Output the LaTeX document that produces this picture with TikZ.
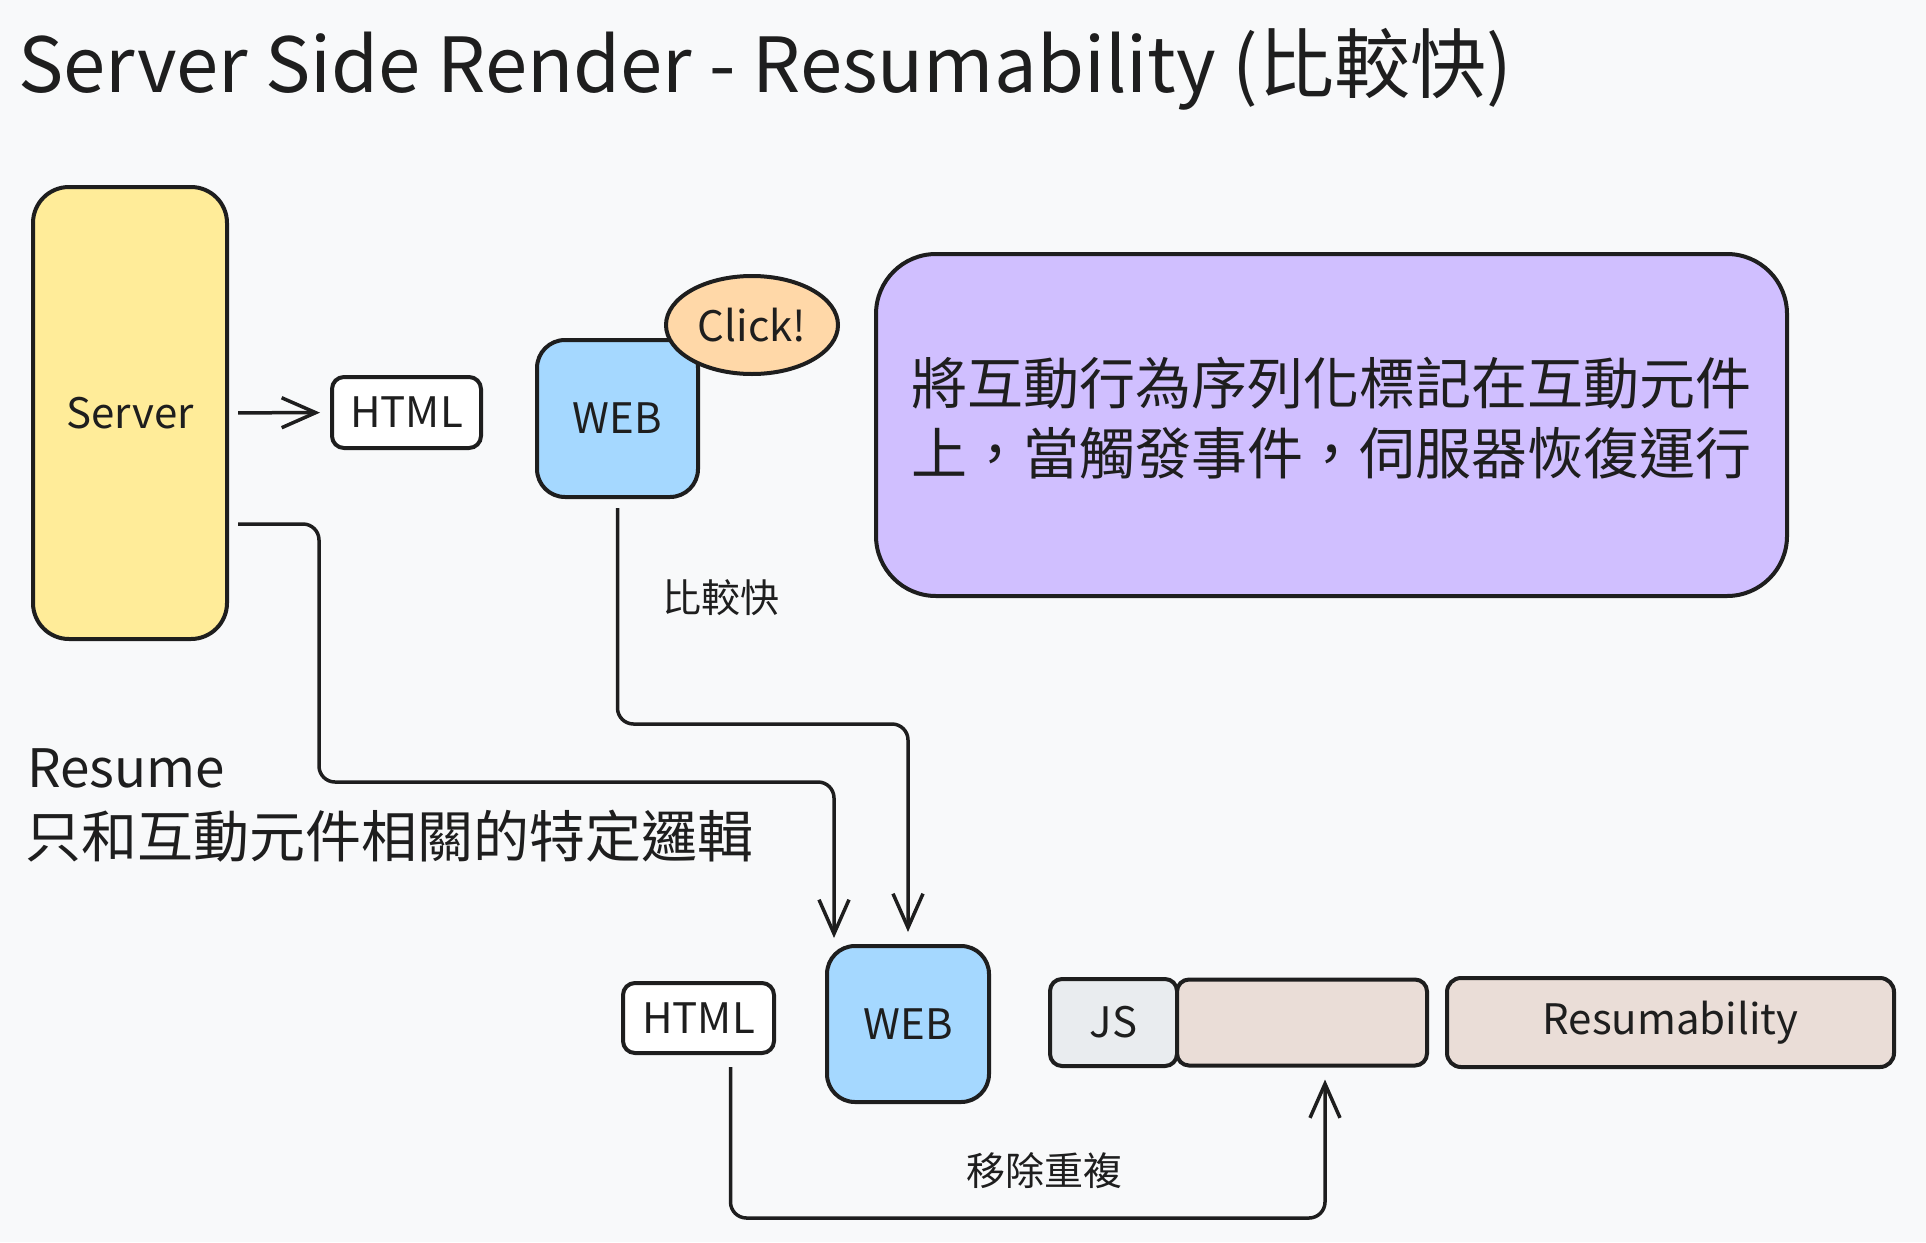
\documentclass[tikz,border=0pt]{standalone}
\usepackage{fontspec}
\setmainfont{Noto Sans CJK TC}
\usetikzlibrary{arrows.meta, shapes.geometric, positioning}
\definecolor{ink}{HTML}{1E1E1E}
\definecolor{paper}{HTML}{F8F9FA}
\definecolor{srvyellow}{HTML}{FFEC99}
\definecolor{webblue}{HTML}{A5D8FF}
\definecolor{clickorange}{HTML}{FFD8A8}
\definecolor{notepurple}{HTML}{D0BFFF}
\definecolor{jsgrey}{HTML}{E9ECEF}
\definecolor{restan}{HTML}{EADDD7}
\newcommand{\setfs}[1]{\fontsize{#1}{#1}\selectfont}
\begin{document}
\begin{tikzpicture}[x=1pt, y=-1pt,
  main/.style={draw=ink, line width=4pt, rounded corners=#1, text=ink, inner sep=0pt, font=\setfs{42}},
  main/.default=12pt,
  conn/.style={draw=ink, line width=3.5pt, rounded corners=16pt, -{Straight Barb[length=34pt, width=30pt]}},
  words/.style={text=ink, inner sep=0pt}]
	\fill[paper] (0,0) rectangle (1926,1242);
	\useasboundingbox (0,0) rectangle (1926,1242);
	% title
	\node[words, anchor=base west, font=\setfs{76}] (title) at (18,92) {Server Side Render - Resumability (比較快)};
	% top row
	\node[main=36pt, fill=srvyellow, minimum width=194pt, minimum height=452pt] (server) at (130,413) {Server};
	\node[main, fill=white, minimum width=149pt, minimum height=71pt] (html1) at (406.5,412.5) {HTML};
	\node[main=28pt, fill=webblue, minimum width=161pt, minimum height=157pt] (web1) at (617.5,418.5) {WEB};
	\node[draw=ink, line width=4pt, ellipse, fill=clickorange, text=ink, inner sep=0pt, font=\setfs{42}, minimum width=172pt, minimum height=98pt] (click) at (752,325) {Click!};
	\node[main=60pt, fill=notepurple, minimum width=911pt, minimum height=342pt, align=center, text depth=19pt, font=\fontsize{56}{70}\selectfont] (note) at (1331.5,425) {將互動行為序列化標記在互動元件\\上，當觸發事件，伺服器恢復運行};
	% left text
	\node[words, anchor=base west, font=\setfs{53}] (resume) at (27,787) {Resume};
	\node[words, anchor=base west, font=\setfs{56}] (resumenote) at (25,857) {只和互動元件相關的特定邏輯};
	% bottom row
	\node[main, fill=white, minimum width=151pt, minimum height=70pt] (html2) at (698.5,1018) {HTML};
	\node[main=28pt, fill=webblue, minimum width=162pt, minimum height=156pt] (web2) at (908,1024) {WEB};
	\node[main, fill=jsgrey, minimum width=127pt, minimum height=87pt] (js) at (1113.5,1022.5) {JS};
	\node[main, fill=restan, minimum width=250pt, minimum height=86pt, right=-4pt of js] (blank) {};
	\node[main=14pt, fill=restan, minimum width=447pt, minimum height=89pt, right=16pt of blank] (resum) {Resumability};
	% labels
	\node[words, font=\setfs{39}] (fast) at (721,598) {比較快};
	\node[words, font=\setfs{39}] (dedup) at (1044,1171) {移除重複};
	% connectors
	\draw[conn, shorten <=9pt, shorten >=10pt] (server) -- (html1);
	\draw[conn, shorten <=9pt, shorten >=6pt] ([yshift=-111pt]server.east) -- ++(90,0) -- ++(0,258) -| ([xshift=9pt]web2.north west);
	\draw[conn, shorten <=9pt, shorten >=12pt] (web1.south) -- ++(0,225) -| (web2.north);
	\draw[conn, shorten <=12pt, shorten >=12pt] ([xshift=32pt]html2.south) -- ++(0,163) -| ([xshift=23pt]blank.south);
\end{tikzpicture}
\end{document}
